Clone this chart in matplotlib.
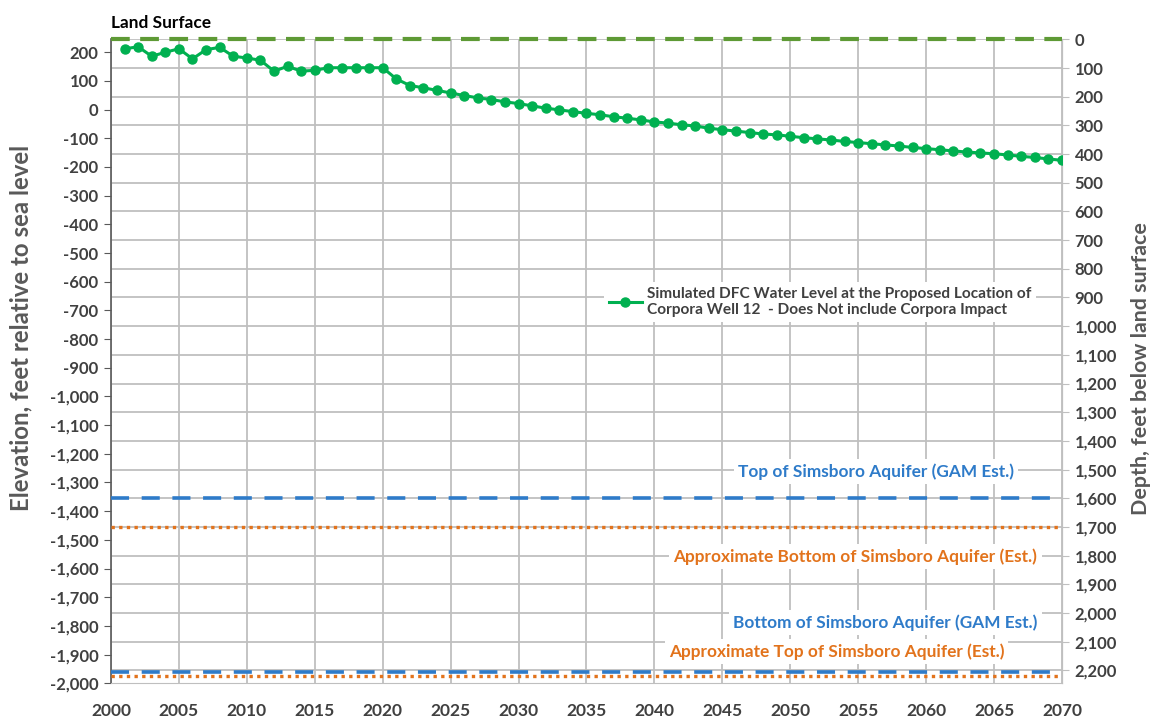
import numpy as np
import matplotlib
matplotlib.use("Agg")
import matplotlib.pyplot as plt
from matplotlib.ticker import FixedLocator

plt.rcParams["font.family"] = ["Lato", "DejaVu Sans"]
plt.rcParams["font.weight"] = "bold"

# --- data ---
years = list(range(2001, 2071))
water_level = [
    212, 219, 186, 200, 212, 177, 209, 217, 186, 180,
    172, 134, 151, 134, 137, 146, 146, 146, 146, 146,
    107, 84, 76, 67, 58, 49, 41, 35, 27, 21,
    13, 5, -1, -7, -13, -18, -25, -30, -36, -43,
    -47, -53, -57, -65, -70, -75, -80, -85, -88, -93,
    -98, -102, -106, -111, -115, -119, -123, -127, -132, -136,
    -140, -144, -148, -151, -154, -158, -163, -167, -172, -177,
]
land_surface = 245
top_gam = -1355
bottom_est = -1455
bottom_gam = -1960
top_est = -1975

elev_ticks = list(range(-2000, 201, 100))
depth_ticks = list(range(0, 2201, 100))
year_ticks = list(range(2000, 2071, 5))

legend_label = ("Simulated DFC Water Level at the Proposed Location of\n"
                "Corpora Well 12  - Does Not include Corpora Impact")

GREEN = "#00B050"
OLIVE = "#5E9A35"
BLUE = "#2E7BC9"
ORANGE = "#E2731C"
GRAY = "#595959"
DARK = "#404040"
GRID = "#BFBFBF"

fig = plt.figure(figsize=(11.56, 7.23), dpi=100)
ax = fig.add_axes([0.096, 0.055, 0.8227, 0.8906])

ax.set_xlim(2000, 2070)
ax.set_ylim(-2000, land_surface)

# horizontal gridlines follow the depth axis
ax.yaxis.set_minor_locator(FixedLocator([land_surface - d for d in depth_ticks]))
ax.set_yticks(elev_ticks, [f"{v:,}" for v in elev_ticks], fontweight="bold",
              fontsize=12, color=DARK)
ax.set_xticks(year_ticks, [str(v) for v in year_ticks], fontweight="bold",
              fontsize=12.5, color=DARK)
ax.grid(which="minor", axis="y", color=GRID, linewidth=1.3, zorder=0)
ax.grid(which="major", axis="x", color=GRID, linewidth=1.3, zorder=0)
ax.set_axisbelow(True)

ax.tick_params(axis="y", which="minor", length=0)
ax.tick_params(axis="y", which="major", length=5, color=GRAY, pad=4)
ax.tick_params(axis="x", length=0, pad=14)

ax.spines["top"].set_visible(False)
ax.spines["left"].set_color(GRAY)
ax.spines["right"].set_color(GRID)
ax.spines["bottom"].set_color(GRID)
ax.spines["left"].set_linewidth(1.2)

# reference lines
ax.axhline(land_surface, color=OLIVE, linewidth=3, dashes=(4.5, 2.5), zorder=3,
           clip_on=False)
ax.axhline(top_gam, color=BLUE, linewidth=2.6, dashes=(5, 3.5), zorder=3)
ax.axhline(bottom_est, color=ORANGE, linewidth=2.4, dashes=(1, 1.3), zorder=3)
ax.axhline(bottom_gam, color=BLUE, linewidth=2.6, dashes=(5, 3.5), zorder=3)
ax.axhline(top_est, color=ORANGE, linewidth=2.4, dashes=(1, 1.3), zorder=3)

# water level series
ax.plot(years, water_level, color=GREEN, linewidth=2.2, marker="o",
        markersize=6.5, zorder=4, label=legend_label)

box = dict(facecolor="white", edgecolor="none", pad=3)
ax.text(2056.3, -1261, "Top of Simsboro Aquifer (GAM Est.)", color=BLUE,
        fontsize=12.4, ha="center", va="center", bbox=box, zorder=5)
ax.text(2054.8, -1558, "Approximate Bottom of Simsboro Aquifer (Est.)", color=ORANGE,
        fontsize=12.4, ha="center", va="center", bbox=box, zorder=5)
ax.text(2057.0, -1789, "Bottom of Simsboro Aquifer (GAM Est.)", color=BLUE,
        fontsize=12.4, ha="center", va="center", bbox=box, zorder=5)
ax.text(2053.4, -1890, "Approximate Top of Simsboro Aquifer (Est.)", color=ORANGE,
        fontsize=12.4, ha="center", va="center", bbox=box, zorder=5)

ax.annotate("Land Surface", xy=(0, 1), xycoords="axes fraction",
            xytext=(0, 6), textcoords="offset points", fontsize=12.4,
            color="black", ha="left", va="bottom")

leg = ax.legend(loc="center", bbox_to_anchor=(0.7455, 0.592), frameon=True,
                fontsize=11.1, handlelength=2.2, borderpad=0.3,
                handletextpad=0.3, labelspacing=0.2)
leg.get_frame().set_edgecolor("none")
leg.get_frame().set_facecolor("white")
leg.get_frame().set_alpha(1)
for t in leg.get_texts():
    t.set_color(DARK)
    t.set_fontweight("bold")

# depth axis on the right
sec = ax.secondary_yaxis("right", functions=(lambda e: land_surface - e,
                                             lambda d: land_surface - d))
sec.set_yticks(depth_ticks, [f"{v:,}" for v in depth_ticks], fontweight="bold",
               fontsize=12, color=DARK)
sec.tick_params(length=5, color=GRID, pad=4)
sec.spines["right"].set_color(GRID)

# axis titles
fig.text(21 / 1156, 1 - 328 / 723, "Elevation, feet relative to sea level",
         rotation=90, ha="center", va="center", fontsize=17.3, color=GRAY,
         fontweight="bold")
fig.text(1141 / 1156, 1 - 369 / 723, "Depth, feet below land surface",
         rotation=90, ha="center", va="center", fontsize=15.4, color=GRAY,
         fontweight="bold")

fig.savefig("out.png", dpi=100)
